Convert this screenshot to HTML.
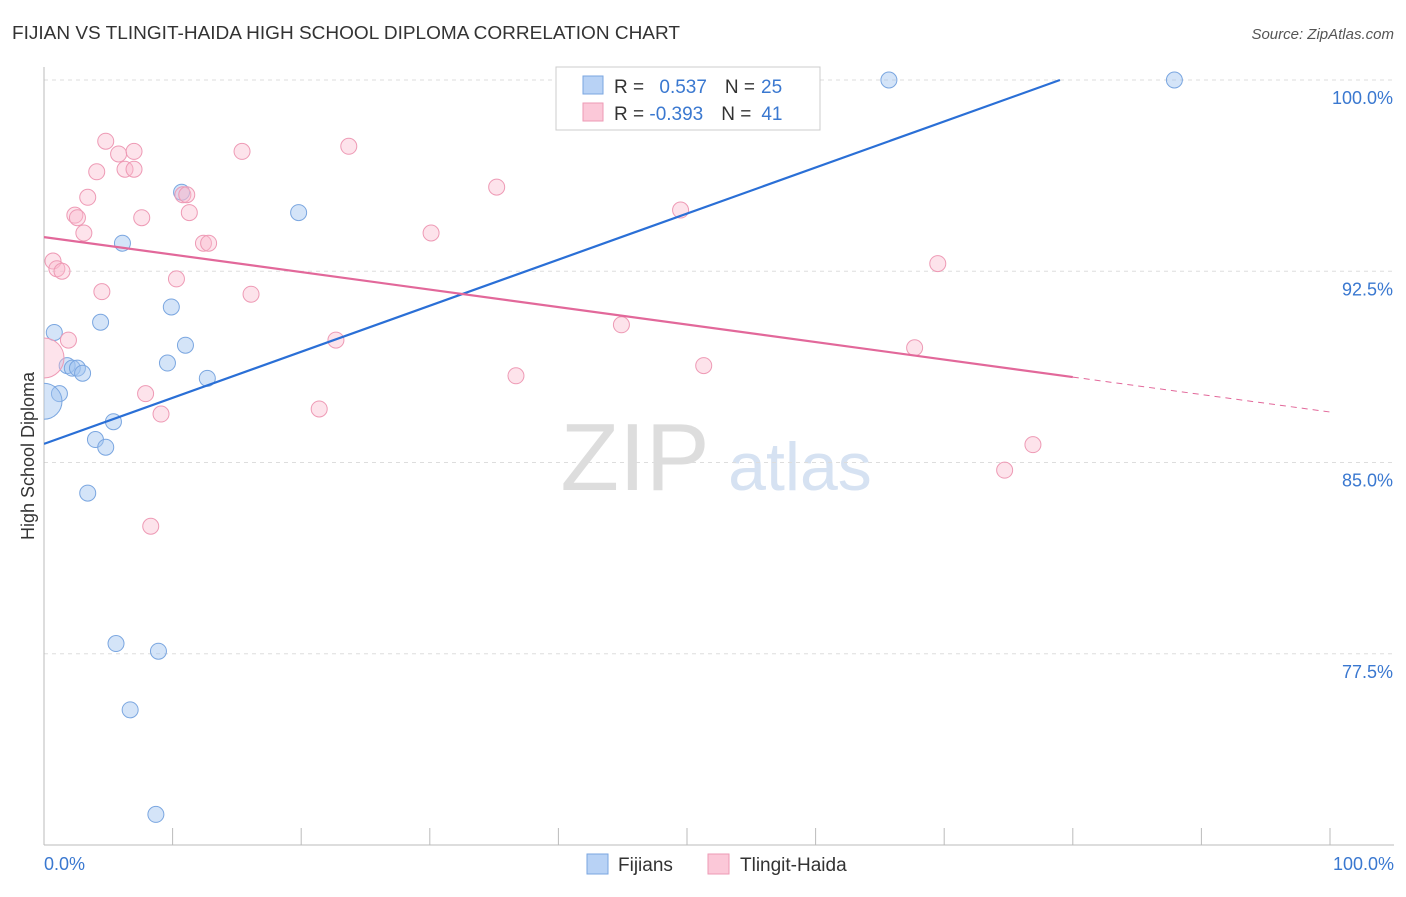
<!DOCTYPE html>
<html><head><meta charset="utf-8"><style>
body{margin:0;background:#fff;font-family:"Liberation Sans",sans-serif}
svg text{font-family:"Liberation Sans",sans-serif}
</style></head><body>
<svg id="chart" width="1406" height="892" viewBox="0 0 1406 892" xmlns="http://www.w3.org/2000/svg">
<defs><clipPath id="plotclip"><rect x="44" y="60" width="1360" height="785"/></clipPath></defs>
<text x="12" y="39" font-size="18" fill="#333" textLength="668" lengthAdjust="spacingAndGlyphs">FIJIAN VS TLINGIT-HAIDA HIGH SCHOOL DIPLOMA CORRELATION CHART</text>
<text x="1394" y="39" font-size="15" fill="#555" text-anchor="end" font-style="italic">Source: ZipAtlas.com</text>
<text x="635" y="490" font-size="96" fill="#ddd" text-anchor="middle" font-family="Liberation Serif">ZIP</text>
<text x="800" y="490" font-size="68" fill="#d6e2f2" text-anchor="middle">atlas</text>
<g id="grid"></g>
<g id="axes"></g>
<g id="marks" clip-path="url(#plotclip)"></g>
<text transform="translate(34,456) rotate(-90)" font-size="18" fill="#333" text-anchor="middle">High School Diploma</text>
<text x="44" y="870" font-size="18" fill="#3a78d0">0.0%</text>
<text x="1394" y="870" font-size="18" fill="#3a78d0" text-anchor="end">100.0%</text>
<g>
<rect x="556" y="67" width="264" height="63" fill="#fff" stroke="#ccc"/>
<rect x="583" y="76" width="20" height="18" fill="#b8d2f5" stroke="#7aa6e0"/>
<rect x="583" y="103" width="20" height="18" fill="#fbc8d8" stroke="#ee9ab5"/>
<text x="614" y="93" font-size="19" fill="#333">R = <tspan fill="#3a78d0" dx="10">0.537</tspan><tspan dx="18" fill="#333">N =</tspan><tspan dx="6" fill="#3a78d0">25</tspan></text>
<text x="614" y="120" font-size="19" fill="#333">R = <tspan fill="#3a78d0">-0.393</tspan><tspan dx="18" fill="#333">N =</tspan><tspan dx="10" fill="#3a78d0">41</tspan></text>
</g>
<g>
<rect x="587" y="854" width="21" height="20" fill="#b8d2f5" stroke="#7aa6e0"/>
<text x="618" y="871" font-size="19" fill="#333">Fijians</text>
<rect x="708" y="854" width="21" height="20" fill="#fbc8d8" stroke="#ee9ab5"/>
<text x="740" y="871" font-size="19" fill="#333">Tlingit-Haida</text>
</g>
</svg>
<script>
const yTicks=[100,92.5,85,77.5];
const yTickLabels=["100.0%","92.5%","85.0%","77.5%"];
const xTicks=[10,20,30,40,50,60,70,80,90,100];
const fijiX=[65.7,87.9,10.7,19.8,6.1,9.9,4.4,0.8,11.0,9.6,1.8,2.2,2.6,3.0,12.7,1.2,0,5.4,4.0,4.8,3.4,5.6,8.9,6.7,8.7];
const fijiY=[100,100,95.6,94.8,93.6,91.1,90.5,90.1,89.6,88.9,88.8,88.7,88.7,88.5,88.3,87.7,87.4,86.6,85.9,85.6,83.8,77.9,77.6,75.3,71.2];
const fijiR=[8,8,8,8,8,8,8,8,8,8,8,8,8,8,8,8,18,8,8,8,8,8,8,8,8];
const tlX=[4.8,7.0,5.8,15.4,23.7,4.1,6.3,7.0,3.4,10.8,11.1,35.2,2.4,2.6,7.6,11.3,3.1,30.1,49.5,12.4,12.8,0.7,1.0,1.4,69.5,10.3,4.5,16.1,1.9,22.7,44.9,67.7,0,36.7,51.3,7.9,9.1,21.4,76.9,74.7,8.3];
const tlY=[97.6,97.2,97.1,97.2,97.4,96.4,96.5,96.5,95.4,95.5,95.5,95.8,94.7,94.6,94.6,94.8,94.0,94.0,94.9,93.6,93.6,92.9,92.6,92.5,92.8,92.2,91.7,91.6,89.8,89.8,90.4,89.5,89.1,88.4,88.8,87.7,86.9,87.1,85.7,84.7,82.5];
const tlR=[8,8,8,8,8,8,8,8,8,8,8,8,8,8,8,8,8,8,8,8,8,8,8,8,8,8,8,8,8,8,8,8,20,8,8,8,8,8,8,8,8];
const fijiLine=[[0,85.73],[79.0,100]];
const tlLine=[[0,93.84],[80.0,88.35],[100,86.98]];
const NS="http://www.w3.org/2000/svg";
const sx=v=>44+v*12.86, sy=v=>80+(100-v)*25.5;
function mk(tag,attrs,parent){const e=document.createElementNS(NS,tag);for(const k in attrs)e.setAttribute(k,attrs[k]);parent.appendChild(e);return e;}
const grid=document.getElementById('grid'),axes=document.getElementById('axes'),marks=document.getElementById('marks');
yTicks.forEach((t,i)=>{
 const l=mk('line',{x1:44,x2:1394,y1:sy(t),y2:sy(t),stroke:'#ddd','stroke-dasharray':'4,4'},grid);
 
 
 const tx=mk('text',{x:1393,y:sy(t)+24,'font-size':18,fill:'#3a78d0','text-anchor':'end'},grid);
 tx.textContent=yTickLabels[i];
 
 
});
const ya=mk('line',{x1:44,x2:44,y1:67,y2:845,stroke:'#bbb'},axes);


const xa=mk('line',{x1:44,x2:1394,y1:845,y2:845,stroke:'#bbb'},axes);


xTicks.forEach(t=>{
 const l=mk('line',{x1:sx(t),x2:sx(t),y1:828,y2:845,stroke:'#bbb'},axes);
 
 
});
fijiX.forEach((x,i)=>{
 const c=mk('circle',{cx:sx(x),cy:sy(fijiY[i]),r:fijiR[i],fill:'rgba(160,195,240,0.45)',stroke:'#7aa6e0','stroke-width':1},marks);
 
 
});
tlX.forEach((x,i)=>{
 const c=mk('circle',{cx:sx(x),cy:sy(tlY[i]),r:tlR[i],fill:'rgba(250,185,205,0.4)',stroke:'#ee9ab5','stroke-width':1},marks);
 
 
});
const bl=mk('line',{x1:sx(fijiLine[0][0]),y1:sy(fijiLine[0][1]),x2:sx(fijiLine[1][0]),y2:sy(fijiLine[1][1]),stroke:'#2a6fd6','stroke-width':2.2},marks);


const pl=mk('line',{x1:sx(tlLine[0][0]),y1:sy(tlLine[0][1]),x2:sx(tlLine[1][0]),y2:sy(tlLine[1][1]),stroke:'#e2689a','stroke-width':2.2},marks);


const pd=mk('line',{x1:sx(tlLine[1][0]),y1:sy(tlLine[1][1]),x2:sx(tlLine[2][0]),y2:sy(tlLine[2][1]),stroke:'#e2689a','stroke-width':1,'stroke-dasharray':'6,5'},marks);


</script>
</body></html>
